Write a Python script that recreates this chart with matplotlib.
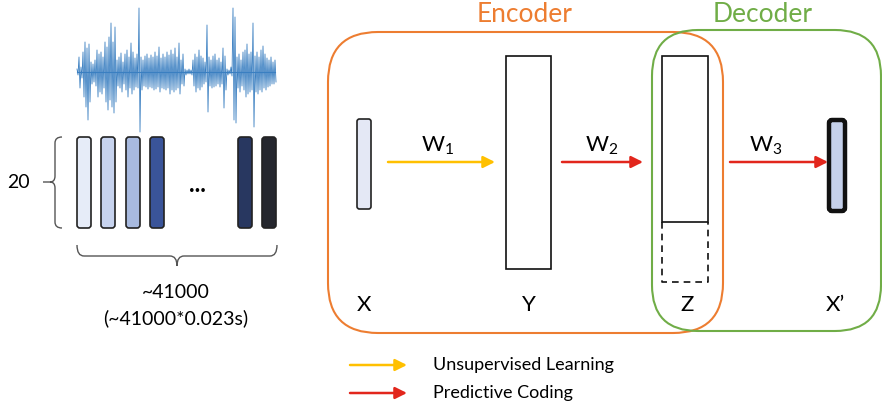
import matplotlib.pyplot as plt
from matplotlib.patches import FancyBboxPatch, Rectangle, FancyArrowPatch, PathPatch
from matplotlib.path import Path

plt.rcParams["font.family"] = ["Lato", "DejaVu Sans"]
plt.rcParams["mathtext.fontset"] = "custom"
plt.rcParams["mathtext.rm"] = "Lato"

# ==============================================================
#  Data (pixel units)
# ==============================================================

# waveform envelope, one sample every 2 px from x=77
wave_up = [3, 15, 5, 20, 30, 24, 28, 10, 8, 12,
           22, 18, 20, 15, 30, 25, 35, 49, 30, 45,
           12, 15, 19, 10, 18, 22, 15, 29, 20, 14,
           18, 64, 15, 12, 16, 18, 14, 17, 15, 20,
           16, 25, 14, 18, 15, 20, 17, 22, 18, 24,
           15, 29, 12, 18, 3, 2, 3, 2, 12, 18,
           15, 22, 16, 14, 10, 47, 15, 12, 16, 18,
           12, 14, 10, 24, 16, 3, 2, 5, 64, 55,
           15, 18, 12, 20, 22, 28, 18, 20, 49, 16,
           20, 15, 22, 26, 18, 14, 12, 15, 10, 12]
wave_lo = [3, 16, 6, 25, 35, 48, 30, 12, 10, 14,
           25, 20, 22, 16, 30, 38, 28, 35, 41, 30,
           14, 16, 20, 12, 18, 25, 16, 22, 18, 15,
           16, 60, 18, 14, 15, 17, 15, 16, 18, 17,
           15, 20, 16, 17, 18, 16, 22, 18, 20, 18,
           16, 22, 12, 14, 3, 2, 2, 3, 14, 20,
           16, 18, 15, 12, 10, 40, 14, 16, 15, 14,
           12, 15, 12, 36, 18, 3, 2, 4, 48, 51,
           16, 20, 14, 18, 25, 22, 20, 18, 55, 20,
           22, 18, 20, 16, 18, 15, 14, 12, 12, 10]

frame_x = [77, 101, 126, 150, 238, 262]
frame_colors = ["#e6ecf8", "#c7d3ee", "#a8badf", "#3a5499", "#283760", "#25272e"]

layer_labels = ["X", "Y", "Z", "X\u2019"]
layer_label_x = [364, 529, 687, 835]
weight_labels = ["W$_\\mathregular{1}$", "W$_\\mathregular{2}$", "W$_\\mathregular{3}$"]
weight_label_x = [421, 585, 749]
weight_x = [(388, 495), (562, 643), (730, 828)]
weight_colors = ["#ffc000", "#e2261c", "#e2261c"]

legend_labels = ["Unsupervised Learning", "Predictive Coding"]
legend_colors = ["#ffc000", "#e2261c"]

ORANGE = "#ed7d31"
GREEN = "#70ad47"

fig = plt.figure(figsize=(8.82, 4.08), dpi=100)
ax = fig.add_axes([0, 0, 1, 1])
ax.set_xlim(0, 882)
ax.set_ylim(408, 0)
ax.axis("off")

# --- waveform
cy = 72
xs, ys = [], []
for i, (u, d) in enumerate(zip(wave_up, wave_lo)):
    x0 = 77 + 2 * i
    xs += [x0, x0 + 1]
    ys += [cy - u, cy + d]
ax.plot(xs, ys, color="#3a7fc1", lw=0.6)
ax.plot([77, 275], [cy, cy], color="#3a7fc1", lw=0.8)

# --- feature frames
for x0, c in zip(frame_x, frame_colors):
    ax.add_patch(FancyBboxPatch((x0, 137), 14, 91, boxstyle="round,pad=0,rounding_size=3",
                                fc=c, ec="#222222", lw=1.2))
ax.text(197, 185, "...", ha="center", va="center", fontsize=17, fontweight="bold")


def brace(verts, codes):
    ax.add_patch(PathPatch(Path(verts, codes), fc="none", ec="#555555", lw=1.0))


M, L, Q = Path.MOVETO, Path.LINETO, Path.CURVE3
brace([(62, 137), (55, 137), (55, 143), (55, 176), (55, 182), (50, 182), (43, 182),
       (50, 182), (55, 182), (55, 188), (55, 222), (55, 228), (62, 228)],
      [M, Q, Q, L, Q, Q, L, M, Q, Q, L, Q, Q])
brace([(77, 245), (77, 256), (84, 256), (170, 256), (177, 256), (177, 266),
       (177, 266), (177, 256), (184, 256), (270, 256), (277, 256), (277, 245)],
      [M, Q, Q, L, Q, Q, M, Q, Q, L, Q, Q])

ax.text(18, 183, "20", ha="center", va="center", fontsize=14)
ax.text(176, 292, "~41000", ha="center", va="center", fontsize=14)
ax.text(176, 318, "(~41000*0.023s)", ha="center", va="center", fontsize=14)

# --- encoder / decoder frames
ax.add_patch(FancyBboxPatch((328, 32), 395, 301, boxstyle="round,pad=0,rounding_size=50",
                            fc="none", ec=ORANGE, lw=1.5))
ax.add_patch(FancyBboxPatch((652, 30), 229, 301, boxstyle="round,pad=0,rounding_size=46",
                            fc="none", ec=GREEN, lw=1.5))
ax.text(525, 14, "Encoder", ha="center", va="center", fontsize=19, color=ORANGE)
ax.text(763, 14, "Decoder", ha="center", va="center", fontsize=19, color=GREEN)

# --- layers
ax.add_patch(FancyBboxPatch((357, 119), 14, 90, boxstyle="round,pad=0,rounding_size=2.5",
                            fc="#e4e8f5", ec="#222222", lw=1.2))
ax.add_patch(Rectangle((506, 56), 45, 213, fc="white", ec="#111111", lw=1.2))
ax.add_patch(Rectangle((662, 56), 46, 166, fc="white", ec="#111111", lw=1.2))
ax.plot([662, 662, 708, 708], [222, 282, 282, 222], color="#111111", lw=1.2, ls=(0, (4, 3)))
ax.add_patch(FancyBboxPatch((829, 120), 16, 91, boxstyle="round,pad=0,rounding_size=3",
                            fc="#c5d0ea", ec="#111111", lw=3.2))

for lab, x0 in zip(layer_labels, layer_label_x):
    ax.text(x0, 305, lab, ha="center", va="center", fontsize=16)

for lab, lx, (xa, xb), c in zip(weight_labels, weight_label_x, weight_x, weight_colors):
    ax.add_patch(FancyArrowPatch((xa, 162), (xb, 162), arrowstyle="-|>,head_length=7,head_width=3.5",
                                 color=c, lw=1.8, shrinkA=0, shrinkB=0, mutation_scale=1))
    ax.text(lx, 146, lab, ha="left", va="center", fontsize=16)

# --- legend
for k, (lab, c) in enumerate(zip(legend_labels, legend_colors)):
    y = 365 + 28 * k
    ax.add_patch(FancyArrowPatch((350, y), (407, y), arrowstyle="-|>,head_length=7,head_width=3.5",
                                 color=c, lw=1.8, shrinkA=0, shrinkB=0, mutation_scale=1))
    ax.text(433, y, lab, ha="left", va="center", fontsize=13)

fig.savefig("out.png", dpi=100)
plt.close(fig)
